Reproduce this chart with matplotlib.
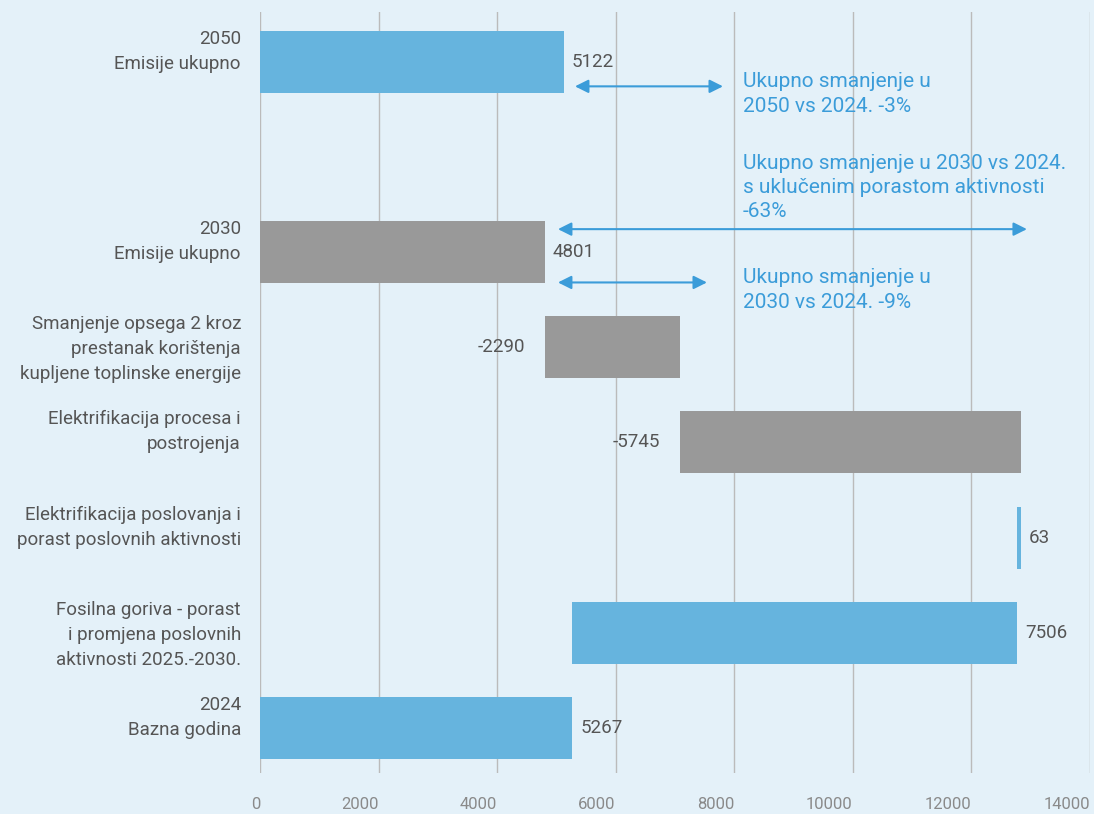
import matplotlib
matplotlib.use("Agg")
import matplotlib.pyplot as plt

plt.rcParams['font.family'] = ['Roboto', 'DejaVu Sans']

categories = [
    "2024\nBazna godina",
    "Fosilna goriva - porast\ni promjena poslovnih\naktivnosti 2025.-2030.",
    "Elektrifikacija poslovanja i\nporast poslovnih aktivnosti",
    "Elektrifikacija procesa i\npostrojenja",
    "Smanjenje opsega 2 kroz\nprestanak korištenja\nkupljene toplinske energije",
    "2030\nEmisije ukupno",
    "",
    "2050\nEmisije ukupno",
]
positions = [0, 1, 2, 3, 4, 5, 6, 7]
starts = [0, 5267, 12773, 12836, 7091, 0, None, 0]
widths = [5267, 7506, 63, -5745, -2290, 4801, None, 5122]
labels = ["5267", "7506", "63", "-5745", "-2290", "4801", "", "5122"]
kinds = ["blue", "blue", "blue", "grey", "grey", "grey", None, "blue"]

annotations = [
    ("Ukupno smanjenje u\n2050 vs 2024. -3%", 5313, 7809, 6.74, 6.66),
    ("Ukupno smanjenje u 2030 vs 2024.\ns uklučenim porastom aktivnosti\n-63%", 5026, 12936, 5.24, 5.68),
    ("Ukupno smanjenje u\n2030 vs 2024. -9%", 5026, 7539, 4.68, 4.60),
]
xticks = [0, 2000, 4000, 6000, 8000, 10000, 12000, 14000]

BG = "#E4F1F9"
BLUE = "#66B4DE"
GREY = "#999999"
ACC = "#3B9CD9"
TXT = "#555555"
colors = {"blue": BLUE, "grey": GREY}

fig = plt.figure(figsize=(10.94, 8.14), dpi=100, facecolor=BG)
ax = fig.add_axes([260/1094, 1-773/814, 830/1094, 761/814])
ax.set_facecolor(BG)

for p, s, w, lab, k in zip(positions, starts, widths, labels, kinds):
    if k is None:
        continue
    ax.barh(p, w, left=s, height=0.65, color=colors[k], zorder=2)
    end = s + w
    if w >= 0:
        ax.annotate(lab, (end, p), xytext=(8, 0), textcoords="offset pixels",
                    ha="left", va="center", fontsize=13.5, color=TXT)
    else:
        ax.annotate(lab, (end, p), xytext=(-20, 0), textcoords="offset pixels",
                    ha="right", va="center", fontsize=13.5, color=TXT)

for p, c in zip(positions, categories):
    if c:
        ax.annotate(c, (0, p), xytext=(-19, 32), textcoords="offset pixels",
                    ha="right", va="top", fontsize=13.5, color=TXT,
                    linespacing=1.5, annotation_clip=False)

for text, x0, x1, ya, yt in annotations:
    ax.annotate("", xy=(x1, ya), xytext=(x0, ya),
                arrowprops=dict(arrowstyle="<|-|>", color=ACC, lw=1.5,
                                mutation_scale=20, shrinkA=0, shrinkB=0), zorder=3)
    ax.text(8146, yt, text, ha="left", va="center", fontsize=15, color=ACC,
            linespacing=1.35, zorder=3)

ax.set_xlim(0, 14000)
ax.set_ylim(-0.473, 7.521)
ax.set_xticks(xticks)
ax.set_xticklabels([str(t) for t in xticks], ha="right", fontsize=12, color="#8A8A8A")
ax.set_yticks([])
ax.tick_params(axis="x", length=0, pad=17)
ax.grid(axis="x", color="#BBBBBB", lw=1, zorder=0)
for s in ax.spines.values():
    s.set_visible(False)

fig.savefig("out.png", dpi=100, facecolor=BG)
